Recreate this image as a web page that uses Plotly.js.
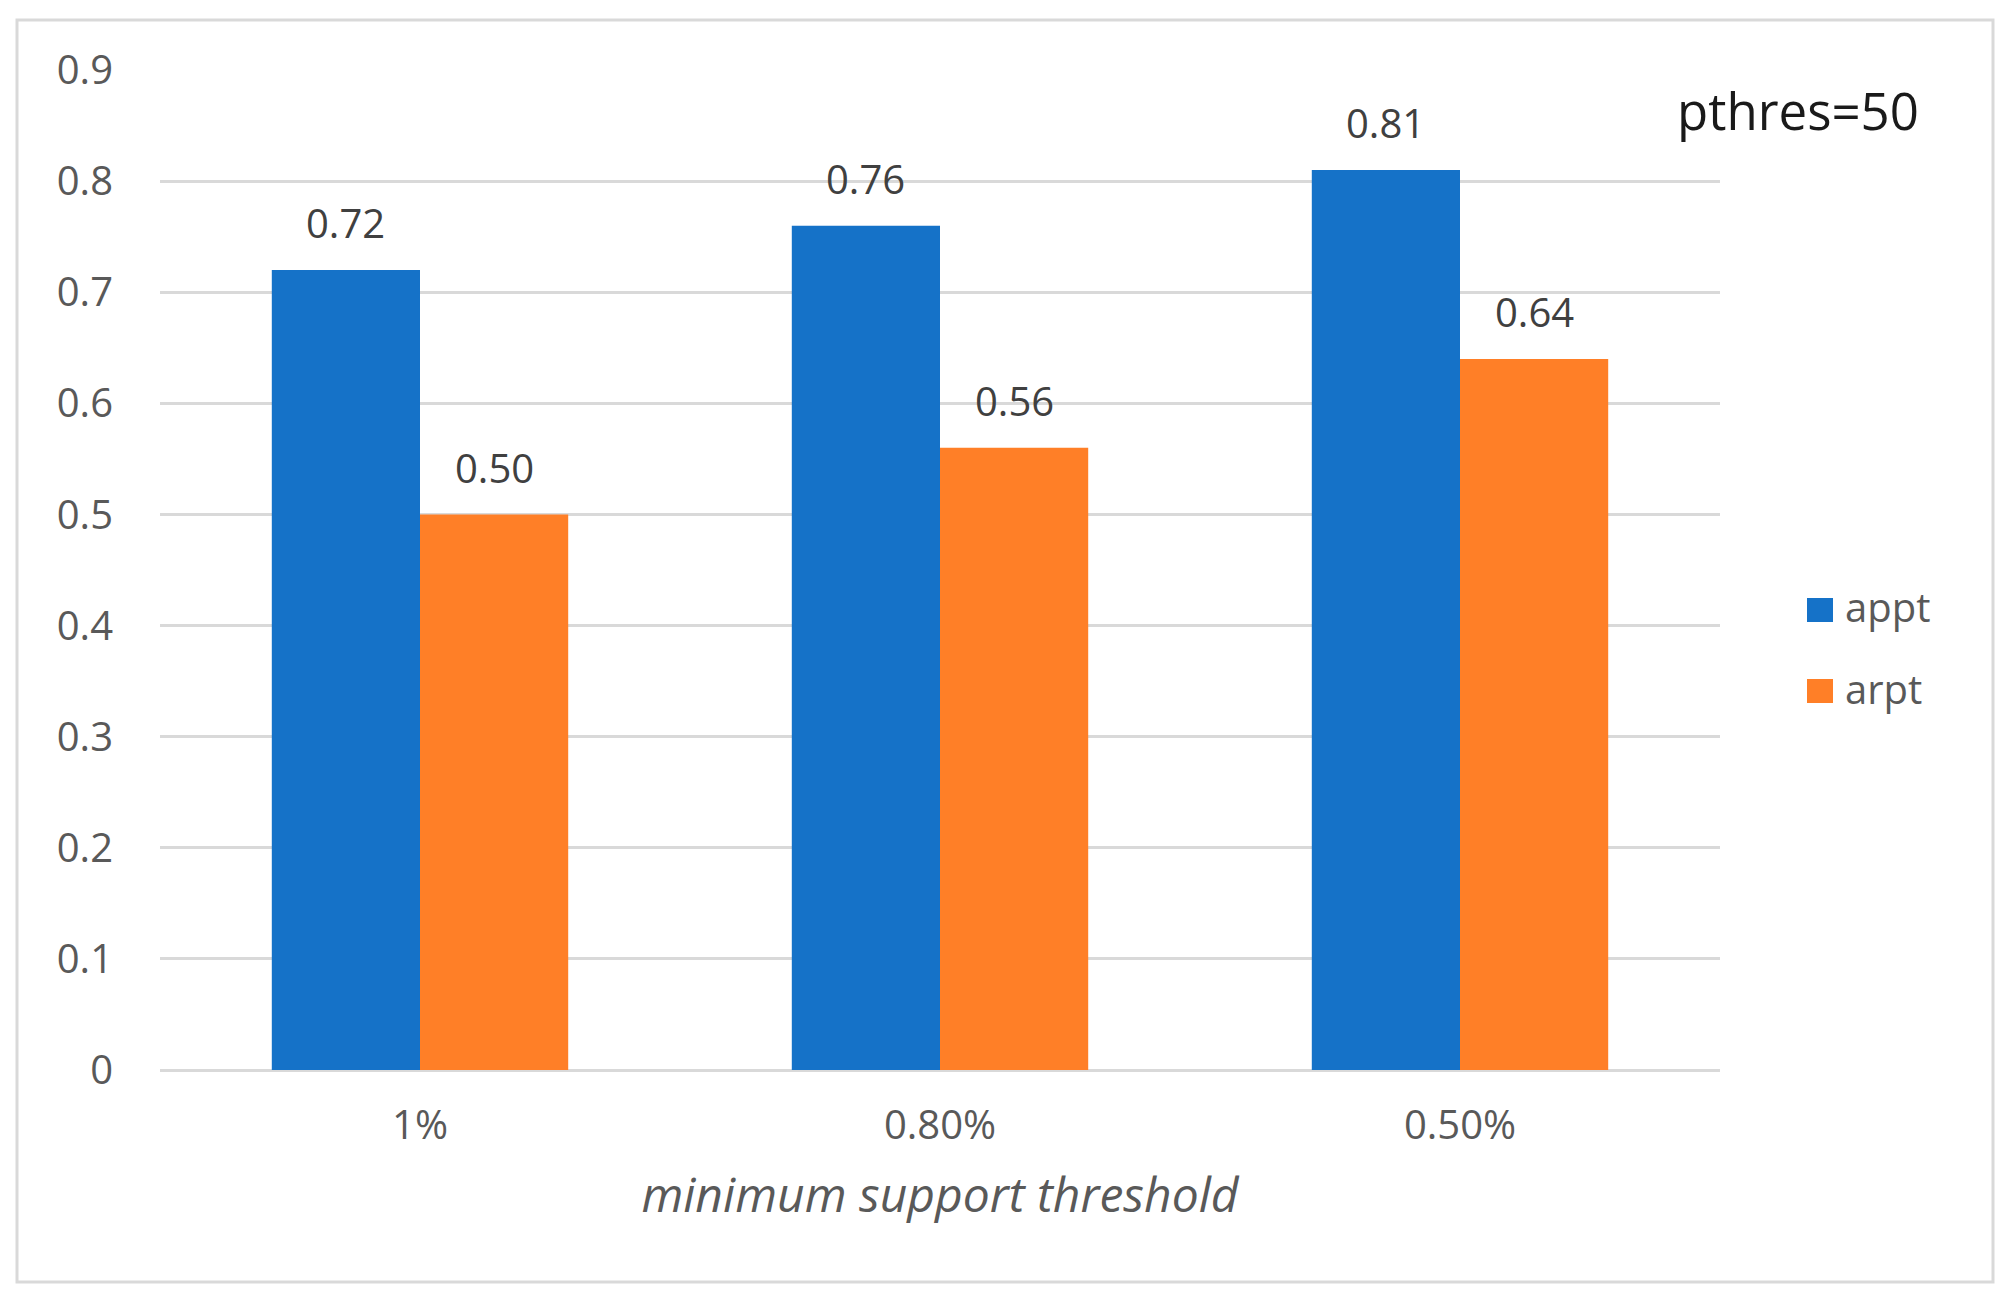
<!DOCTYPE html>
<html>
<head>
<meta charset="utf-8">
<script src="https://cdn.plot.ly/plotly-3.0.1.min.js"></script>
<style>
  html, body { margin: 0; padding: 0; background: #ffffff; }
  #chart { width: 2016px; height: 1304px; }
</style>
</head>
<body>
<div id="chart"></div>
<script>
// ---- data ----
const categories = ['1%', '0.80%', '0.50%'];
const seriesNames = ['appt', 'arpt'];
const apptValues = [0.72, 0.76, 0.81];
const arptValues = [0.50, 0.56, 0.64];
const labelAppt = ['0.72', '0.76', '0.81'];
const labelArpt = ['0.50', '0.56', '0.64'];
const noteText = 'pthres=50';
const xTitle = 'minimum support threshold';

// ---- style ----
const colors = ['#1572C8', '#FF7F27'];
const FONT = '"Open Sans", "Noto Sans", sans-serif';
const tickColor = '#595959';
const labelColor = '#404040';
const gridColor = '#D9D9D9';
const bargap = 0.43;
const half = (1 - bargap) / 4; // half of one bar width in category units

const W = 2016, H = 1304;
const M = {l: 160, r: 296, t: 70, b: 234};
const PW = W - M.l - M.r, PH = H - M.t - M.b;
const px = x => (x - M.l) / PW;           // pixel -> paper x
const py = y => (H - M.b - y) / PH;       // pixel -> paper y

const traces = [
  {type: 'bar', name: seriesNames[0], x: categories, y: apptValues,
   marker: {color: colors[0]}, hoverinfo: 'x+y'},
  {type: 'bar', name: seriesNames[1], x: categories, y: arptValues,
   marker: {color: colors[1]}, hoverinfo: 'x+y'}
];

const annotations = [];
const seriesVals = [apptValues, arptValues];
const seriesLabels = [labelAppt, labelArpt];
seriesVals.forEach((vals, s) => {
  vals.forEach((v, i) => {
    annotations.push({
      x: i + (s === 0 ? -half : half), y: v, xref: 'x', yref: 'y',
      text: seriesLabels[s][i], showarrow: false,
      xanchor: 'center', yanchor: 'bottom', yshift: 18,
      font: {family: FONT, size: 40, color: labelColor}
    });
  });
});
// note
annotations.push({
  x: px(1798), y: py(110), xref: 'paper', yref: 'paper',
  text: noteText, showarrow: false, xanchor: 'center', yanchor: 'middle',
  font: {family: FONT, size: 51, color: '#1A1A1A'}
});
// legend texts
const legendY = [610, 691];
seriesNames.forEach((n, s) => {
  annotations.push({
    x: px(1843), y: py(legendY[s] - 3), xref: 'paper', yref: 'paper',
    text: n, showarrow: false, xanchor: 'left', yanchor: 'middle',
    font: {family: FONT, size: 40, color: tickColor}
  });
});

const shapes = [
  {type: 'rect', xref: 'paper', yref: 'paper', layer: 'below',
   x0: px(17), x1: px(1993), y0: py(1282), y1: py(20),
   line: {color: gridColor, width: 3}, fillcolor: 'rgba(0,0,0,0)'}
];
seriesNames.forEach((n, s) => {
  shapes.push({type: 'rect', xref: 'paper', yref: 'paper',
    x0: px(1807), x1: px(1833), y0: py(legendY[s] + 12), y1: py(legendY[s] - 12),
    line: {width: 0}, fillcolor: colors[s]});
});

const layout = {
  width: W, height: H,
  margin: M,
  paper_bgcolor: '#ffffff', plot_bgcolor: '#ffffff',
  showlegend: false,
  barmode: 'group', bargap: bargap, bargroupgap: 0,
  font: {family: FONT, color: tickColor},
  xaxis: {
    type: 'category', categoryorder: 'array', categoryarray: categories,
    showgrid: false, zeroline: false, showline: false, ticks: '',
    tickfont: {family: FONT, size: 40, color: tickColor},
    ticklabelstandoff: 28,
    title: {text: xTitle, standoff: 28,
            font: {family: FONT, size: 48, color: tickColor, style: 'italic'}},
    automargin: false
  },
  yaxis: {
    range: [0, 0.9001], dtick: 0.1, tick0: 0,
    showgrid: true, gridcolor: gridColor, gridwidth: 3,
    zeroline: true, zerolinecolor: gridColor, zerolinewidth: 3,
    showline: false, ticks: '',
    tickfont: {family: FONT, size: 40, color: tickColor},
    ticklabelstandoff: 46,
    automargin: false
  },
  annotations: annotations,
  shapes: shapes
};

Plotly.newPlot('chart', traces, layout, {displayModeBar: false, staticPlot: true});
</script>
</body>
</html>
